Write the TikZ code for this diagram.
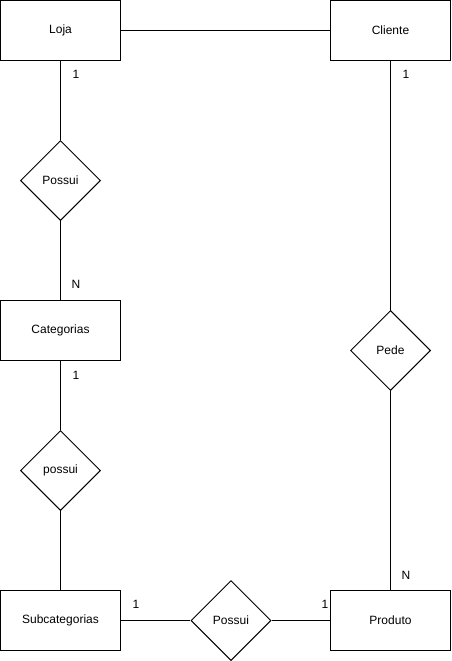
\documentclass[tikz,border=0pt]{standalone}
\usepackage{fontspec}
\setmainfont{Liberation Sans}
\usetikzlibrary{shapes.geometric}
\begin{document}
\begin{tikzpicture}[x=1pt,y=-1pt,
  every node/.style={font=\fontsize{12}{14}\selectfont},
  entity/.style={draw,line width=1pt,minimum width=120pt,minimum height=60pt,inner sep=0pt},
  relation/.style={draw,line width=1pt,diamond,minimum width=80pt,minimum height=80pt,inner sep=0pt},
  link/.style={line width=1pt},
  card/.style={inner sep=0pt,font=\fontsize{12}{14}\selectfont}]
\useasboundingbox (0,0) rectangle (452,661);
% entities
\node[entity] (loja) at (60.5,30.5) {Loja};
\node[entity] (cliente) at (390.5,30.5) {Cliente};
\node[entity] (categorias) at (60.5,330.5) {Categorias};
\node[entity] (subcat) at (60.5,620.5) {Subcategorias};
\node[entity] (produto) at (390.5,620.5) {Produto};
% relationships
\node[relation] (possui1) at (60.5,180.5) {Possui};
\node[relation] (possui2) at (60.5,470.5) {possui};
\node[relation] (possui3) at (231,620.5) {Possui};
\node[relation] (pede) at (390.5,350.5) {Pede};
% connectors
\draw[link] (loja) -- (cliente);
\draw[link] (loja) -- (possui1);
\draw[link] (possui1) -- (categorias);
\draw[link] (categorias) -- (possui2);
\draw[link] (possui2) -- (subcat);
\draw[link] (subcat) -- (possui3);
\draw[link] (possui3) -- (produto);
\draw[link] (cliente) -- (pede);
\draw[link] (pede) -- (produto);
% cardinalities
\node[card] (c1) at (76,74) {1};
\node[card] (c2) at (76,284) {N};
\node[card] (c3) at (76,375) {1};
\node[card] (c4) at (406,74) {1};
\node[card] (c5) at (406,575) {N};
\node[card] (c6) at (136,604) {1};
\node[card] (c7) at (325,604) {1};
\end{tikzpicture}
\end{document}
